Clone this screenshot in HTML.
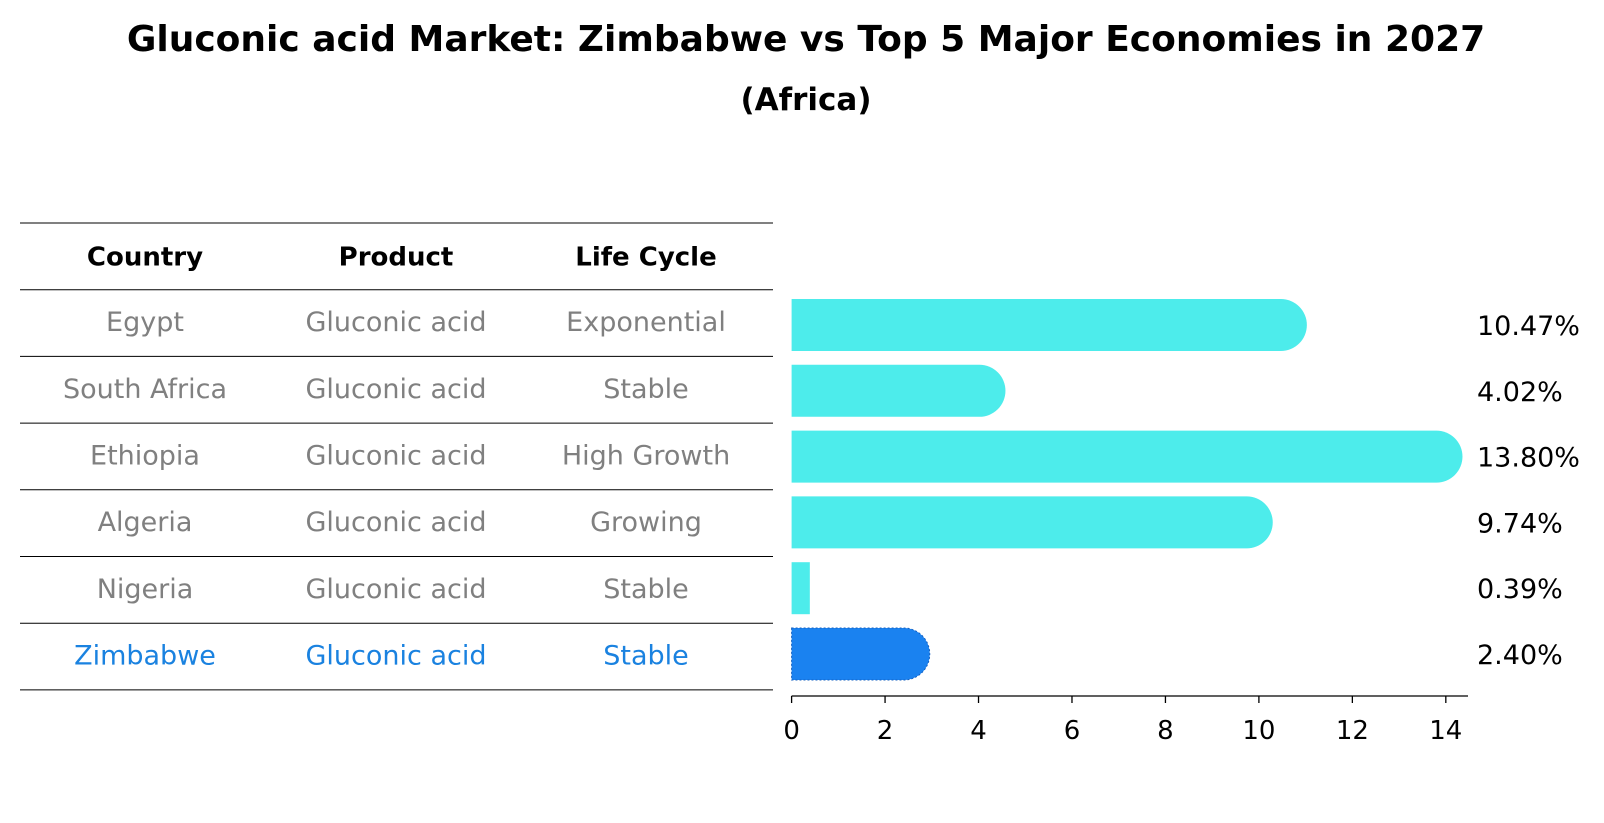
<!DOCTYPE html>
<html><head><meta charset="utf-8"><style>
html,body{margin:0;padding:0;background:#fff;}
svg{display:block;font-family:"DejaVu Sans","Liberation Sans",sans-serif;}
</style></head><body>
<svg id="chart" width="1604" height="823" viewBox="0 0 1604 823">
<text x="806" y="51" text-anchor="middle" font-size="36" font-weight="bold" fill="#000">Gluconic acid Market: Zimbabwe vs Top 5 Major Economies in 2027</text>
<text x="806" y="110" text-anchor="middle" font-size="31" font-weight="bold" fill="#000">(Africa)</text>
<g id="table"></g>
<g id="bars"></g>
</svg>
<script>
const countries=["Egypt","South Africa","Ethiopia","Algeria","Nigeria","Zimbabwe"];
const products=["Gluconic acid","Gluconic acid","Gluconic acid","Gluconic acid","Gluconic acid","Gluconic acid"];
const lifeCycles=["Exponential","Stable","High Growth","Growing","Stable","Stable"];
const values=[10.47,4.02,13.80,9.74,0.39,2.40];
const ticks=[0,2,4,6,8,10,12,14];
const NS="http://www.w3.org/2000/svg";
function mk(tag,attrs,parent){const e=document.createElementNS(NS,tag);for(const k in attrs)e.setAttribute(k,attrs[k]);parent.appendChild(e);return e;}
const tbl=document.getElementById('table');
const bars=document.getElementById('bars');
const x0=791.6, sc=46.73;
function xs(v){return x0+v*sc;}
const rowTop=223, rowH=66.7;
function ty(i){return rowTop+rowH*(i+1)+rowH/2;}
const colX=[145,396,646];
for(let i=0;i<=countries.length+1;i++){
  const l=mk('line',{x1:20,x2:773,y1:rowTop+rowH*i,y2:rowTop+rowH*i,stroke:'#000','stroke-width':1},tbl);
  
  
}
const hdr=["Country","Product","Life Cycle"];
hdr.forEach((h,j)=>{
  const t=mk('text',{x:colX[j],y:rowTop+rowH/2+9,'text-anchor':'middle','font-size':26,'font-weight':'bold',fill:'#000'},tbl);
  t.textContent=h;
  
  
});
countries.forEach((c,i)=>{
  const col=i===countries.length-1?'#1a82e0':'#808080';
  [c,products[i],lifeCycles[i]].forEach((s,j)=>{
    const t=mk('text',{x:colX[j],y:ty(i)+8,'text-anchor':'middle','font-size':27,fill:col},tbl);
    t.textContent=s;
    
    
  });
});
const barH=52, r=26;
values.forEach((v,i)=>{
  const cy=325+i*65.8;
  const w=xs(v)-x0;
  const hl=i===values.length-1;
  const fill=hl?'#1a82f0':'#4deceb';
  let el;
  if(w>r){
    const xe=x0+w;
    el=mk('path',{d:`M${x0},${cy-barH/2} H${xe} A${r},${r} 0 0 1 ${xe},${cy+barH/2} H${x0} Z`,fill:fill},bars);
    if(hl){el.setAttribute('stroke','#1560c0');el.setAttribute('stroke-dasharray','2,2');el.setAttribute('stroke-width','1');}
  } else {
    el=mk('rect',{x:x0,y:cy-barH/2,width:w,height:barH,fill:fill},bars);
  }
  
  
  const t=mk('text',{x:1477,y:cy+10,'font-size':27,fill:'#000'},bars);
  t.textContent=v.toFixed(2)+'%';
  
  
});
const ax=mk('line',{x1:x0,x2:1468,y1:696,y2:696,stroke:'#000','stroke-width':1.3},bars);


ticks.forEach(tv=>{
  const tl=mk('line',{x1:xs(tv),x2:xs(tv),y1:696,y2:703,stroke:'#000','stroke-width':1.3},bars);
  
  
  const tt=mk('text',{x:xs(tv),y:739,'text-anchor':'middle','font-size':26,fill:'#000'},bars);
  tt.textContent=tv;
  
  
});
</script>
</body></html>
